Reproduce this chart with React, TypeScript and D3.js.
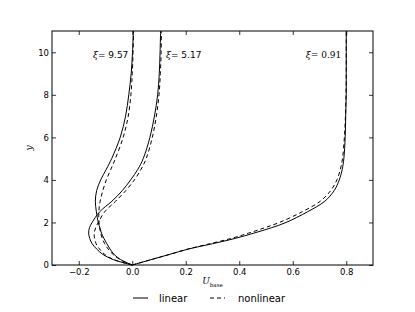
import React, { useEffect, useRef } from 'react';
import * as d3 from 'd3';

// y positions shared by every profile
const yGrid = [0, 0.25, 0.5, 0.75, 1, 1.25, 1.5, 1.75, 2, 2.5, 3, 3.5, 4, 4.5, 5, 6, 7, 8, 9, 10, 11];

// U_base profiles, linear (solid) and nonlinear (dashed)
const linear957 = [0, -0.043, -0.068, -0.083, -0.095, -0.106, -0.115, -0.121, -0.127, -0.134, -0.138, -0.133, -0.118, -0.097, -0.077, -0.045, -0.025, -0.013, -0.004, 0.001, 0.004];
const nonlinear957 = [0, -0.045, -0.072, -0.09, -0.103, -0.112, -0.118, -0.122, -0.124, -0.125, -0.12, -0.11, -0.097, -0.08, -0.063, -0.034, -0.015, -0.005, 0.0, 0.003, 0.005];
const linear517 = [0, -0.07, -0.11, -0.133, -0.15, -0.159, -0.163, -0.16, -0.15, -0.122, -0.076, -0.037, -0.006, 0.021, 0.041, 0.066, 0.083, 0.095, 0.101, 0.104, 0.106];
const nonlinear517 = [0, -0.068, -0.103, -0.122, -0.135, -0.141, -0.142, -0.137, -0.127, -0.103, -0.062, -0.024, 0.008, 0.033, 0.052, 0.075, 0.09, 0.1, 0.105, 0.108, 0.109];
const linear091 = [0, 0.07, 0.14, 0.21, 0.3, 0.385, 0.455, 0.52, 0.575, 0.655, 0.72, 0.755, 0.774, 0.785, 0.791, 0.796, 0.798, 0.8, 0.8, 0.8, 0.8];
const nonlinear091 = [0, 0.07, 0.14, 0.208, 0.29, 0.37, 0.435, 0.495, 0.55, 0.635, 0.703, 0.742, 0.765, 0.778, 0.786, 0.793, 0.797, 0.799, 0.8, 0.8, 0.8];

const xTicks = [-0.2, 0, 0.2, 0.4, 0.6, 0.8];
const yTicks = [0, 2, 4, 6, 8, 10];

// curve annotations
const labelText = ['\u03be= 9.57', '\u03be= 5.17', '\u03be= 0.91'];
const labelU = [-0.147, 0.126, 0.649];
const labelY = [9.72, 9.72, 9.72];
const labelSerif = [false, false, true];

const W = 415, H = 312;
const margin = { left: 52, right: 42, top: 31, bottom: 47 };
const innerW = W - margin.left - margin.right;
const innerH = H - margin.top - margin.bottom;
const sans = '"DejaVu Sans", sans-serif';
const serif = '"DejaVu Serif", serif';

const series = [
  { u: linear957, dash: null },
  { u: nonlinear957, dash: '4,3' },
  { u: linear517, dash: null },
  { u: nonlinear517, dash: '4,3' },
  { u: linear091, dash: null },
  { u: nonlinear091, dash: '4,3' },
];

export default function App() {
  const bottomRef = useRef<SVGGElement>(null);
  const leftRef = useRef<SVGGElement>(null);
  const topRef = useRef<SVGGElement>(null);
  const rightRef = useRef<SVGGElement>(null);

  const x = d3.scaleLinear().domain([-0.3, 0.9]).range([0, innerW]);
  const y = d3.scaleLinear().domain([0, 11]).range([innerH, 0]);

  const line = d3.line<[number, number]>()
    .x((d) => x(d[0]))
    .y((d) => y(d[1]))
    .curve(d3.curveCatmullRom.alpha(0.5));

  useEffect(() => {
    const style = (g: any) => {
      g.select('.domain').remove();
      g.selectAll('line').attr('stroke', '#000').attr('stroke-width', 0.8);
      g.selectAll('text').attr('font-family', sans).attr('font-size', 8.5).attr('fill', '#000');
    };
    d3.select(bottomRef.current)
      .call(d3.axisBottom(x).tickValues(xTicks).tickFormat(d3.format('.1f')).tickSize(-4).tickPadding(4) as any)
      .call(style);
    d3.select(leftRef.current)
      .call(d3.axisLeft(y).tickValues(yTicks).tickFormat(d3.format('d')).tickSize(-4).tickPadding(3) as any)
      .call(style);
    d3.select(topRef.current)
      .call(d3.axisTop(x).tickValues(xTicks).tickFormat(() => '').tickSize(-4) as any)
      .call(style);
    d3.select(rightRef.current)
      .call(d3.axisRight(y).tickValues(yTicks).tickFormat(() => '').tickSize(-4) as any)
      .call(style);
  }, []);

  return (
    <svg width={W} height={H} style={{ position: 'absolute', left: 0, top: 0, background: '#fff' }}>
      <g transform={`translate(${margin.left},${margin.top})`}>
        {series.map((s, i) => (
          <path
            key={i}
            d={line(yGrid.map((yy, j) => [s.u[j], yy] as [number, number])) || ''}
            fill="none"
            stroke="#000"
            strokeWidth={1}
            strokeDasharray={s.dash || undefined}
          />
        ))}
        {labelText.map((t, i) => (
          <text
            key={t}
            x={x(labelU[i])}
            y={y(labelY[i])}
            fontFamily={labelSerif[i] ? serif : sans}
            fontSize={9}
          >
            <tspan fontFamily={serif} fontStyle="italic">{t.slice(0, 1)}</tspan>
            {t.slice(1)}
          </text>
        ))}
        <g ref={bottomRef} transform={`translate(0,${innerH})`} />
        <g ref={leftRef} />
        <g ref={topRef} />
        <g ref={rightRef} transform={`translate(${innerW},0)`} />
        <rect width={innerW} height={innerH} fill="none" stroke="#000" strokeWidth={1} />
        <text x={innerW / 2} y={innerH + 19} fontFamily={serif} fontSize={9} fontStyle="italic" textAnchor="middle">
          U<tspan fontSize={5.5} fontStyle="normal" dy={2.5}>base</tspan>
        </text>
        <text transform={`translate(${-20},${innerH / 2}) rotate(-90)`} fontFamily={serif} fontStyle="italic" fontSize={9} textAnchor="middle">y</text>
      </g>
      <g fontFamily={sans} fontSize={10}>
        <line x1={133} x2={148} y1={298} y2={298} stroke="#000" strokeWidth={1} />
        <text x={159} y={301.5}>linear</text>
        <line x1={210} x2={225} y1={298} y2={298} stroke="#000" strokeWidth={1} strokeDasharray="4,3" />
        <text x={238} y={301.5}>nonlinear</text>
      </g>
    </svg>
  );
}
